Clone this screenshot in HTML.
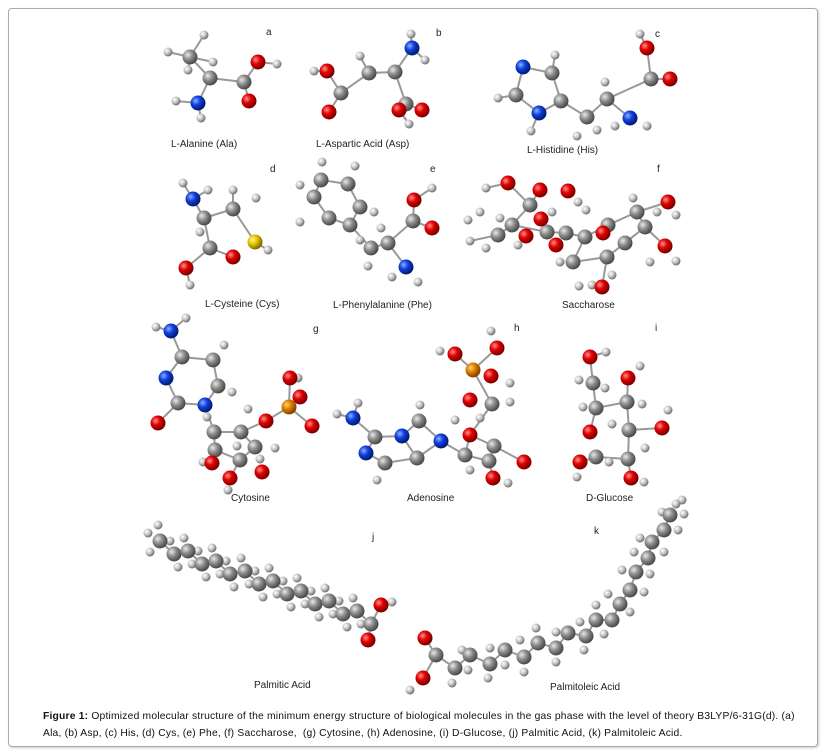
<!DOCTYPE html>
<html><head><meta charset="utf-8"><style>
html,body{margin:0;padding:0;background:#fff;}
body{width:832px;height:754px;position:relative;overflow:hidden;font-family:"Liberation Sans",sans-serif;}
.frame{position:absolute;left:8px;top:8px;width:808px;height:737px;border:1px solid #aaa;border-radius:4px;box-shadow:1px 1px 2px #ccc;}
.cap{position:absolute;left:43px;top:708px;font-size:10.3px;line-height:17px;color:#111;letter-spacing:0.2px;white-space:nowrap;}
svg{position:absolute;left:0;top:0;}
svg text{font-family:"Liberation Sans",sans-serif;font-size:10px;fill:#222;}
</style></head><body>
<div class="frame"></div>
<svg width="832" height="754" viewBox="0 0 832 754">
<defs>
<radialGradient id="gG" cx="35%" cy="35%" r="65%"><stop offset="0" stop-color="#e8e8e8"/><stop offset="0.5" stop-color="#8a8a8a"/><stop offset="1" stop-color="#4a4a4a"/></radialGradient>
<radialGradient id="gR" cx="35%" cy="35%" r="65%"><stop offset="0" stop-color="#ff9090"/><stop offset="0.45" stop-color="#e00000"/><stop offset="1" stop-color="#7a0000"/></radialGradient>
<radialGradient id="gB" cx="35%" cy="35%" r="65%"><stop offset="0" stop-color="#90b0ff"/><stop offset="0.45" stop-color="#1040e0"/><stop offset="1" stop-color="#001a70"/></radialGradient>
<radialGradient id="gH" cx="35%" cy="35%" r="65%"><stop offset="0" stop-color="#ffffff"/><stop offset="0.5" stop-color="#c8c8c8"/><stop offset="1" stop-color="#707070"/></radialGradient>
<radialGradient id="gP" cx="35%" cy="35%" r="65%"><stop offset="0" stop-color="#ffd080"/><stop offset="0.45" stop-color="#e08000"/><stop offset="1" stop-color="#804000"/></radialGradient>
<radialGradient id="gS" cx="35%" cy="35%" r="65%"><stop offset="0" stop-color="#fff4a0"/><stop offset="0.45" stop-color="#e8c800"/><stop offset="1" stop-color="#806800"/></radialGradient>
<circle id="C" r="7.5" fill="url(#gG)"/>
<circle id="O" r="7.5" fill="url(#gR)"/>
<circle id="N" r="7.5" fill="url(#gB)"/>
<circle id="H" r="4.5" fill="url(#gH)"/>
<circle id="P" r="7.5" fill="url(#gP)"/>
<circle id="S" r="7.5" fill="url(#gS)"/>
</defs>

<text x="266" y="35" font-size="12">a</text>
<text x="436" y="36" font-size="12">b</text>
<text x="655" y="37" font-size="12">c</text>
<text x="270" y="172" font-size="12">d</text>
<text x="430" y="172" font-size="12">e</text>
<text x="657" y="172" font-size="12">f</text>
<text x="313" y="332" font-size="12">g</text>
<text x="514" y="331" font-size="12">h</text>
<text x="655" y="331" font-size="12">i</text>
<text x="372" y="540" font-size="12">j</text>
<text x="594" y="534" font-size="12">k</text>
<text x="171" y="147">L-Alanine (Ala)</text>
<text x="316" y="147">L-Aspartic Acid  (Asp)</text>
<text x="527" y="153">L-Histidine (His)</text>
<text x="205" y="307">L-Cysteine (Cys)</text>
<text x="333" y="308">L-Phenylalanine (Phe)</text>
<text x="562" y="308">Saccharose</text>
<text x="231" y="501">Cytosine</text>
<text x="407" y="501">Adenosine</text>
<text x="586" y="501">D-Glucose</text>
<text x="254" y="688">Palmitic Acid</text>
<text x="550" y="690">Palmitoleic Acid</text>

<g stroke="#999" stroke-width="2" fill="none">
<polyline points="204,35 190,57 168,52"/><polyline points="190,57 213,62"/><polyline points="190,57 188,70"/><polyline points="190,57 210,78 244,82 258,62 277,64"/><polyline points="244,82 249,101"/><polyline points="210,78 198,103 176,101"/><polyline points="198,103 201,118"/>
<polyline points="411,34 412,48 425,60"/><polyline points="412,48 395,72 369,73 341,93 327,71 314,71"/><polyline points="341,93 329,112"/><polyline points="395,72 406,104 422,110"/><polyline points="406,104 399,110 409,124"/><polyline points="369,73 360,56"/>
<polygon points="523,67 552,73 561,101 539,113 516,95"/><polyline points="561,101 587,117 607,99 651,79 647,48 640,34"/><polyline points="651,79 670,79"/><polyline points="607,99 630,118"/><polyline points="516,95 498,98"/><polyline points="539,113 531,131"/><polyline points="552,73 555,55"/>
<polyline points="183,183 193,199 208,190"/><polyline points="193,199 204,218 233,209 255,242 268,250"/><polyline points="204,218 210,248 233,257"/><polyline points="210,248 186,268 190,285"/><polyline points="233,209 233,190"/>
<polygon points="321,180 348,184 360,207 350,225 329,218 314,197"/><polyline points="350,225 371,248 388,243 413,221 414,200 432,188"/><polyline points="413,221 432,228"/><polyline points="388,243 406,267"/>
<polyline points="486,188 508,183 530,205 512,225 498,235 470,241"/><polyline points="530,205 540,190"/><polyline points="512,225 547,232 566,233 585,237 608,225 637,212 645,227 625,243 607,257 573,262 585,237"/><polyline points="637,212 668,202"/><polyline points="645,227 665,246"/><polyline points="607,257 602,287"/><polyline points="608,225 603,233"/><polyline points="547,232 541,219"/>
<polyline points="156,327 171,331 186,318"/><polyline points="171,331 182,357 213,360 218,386 205,405 178,403 166,378 182,357"/><polyline points="178,403 158,423"/><polyline points="205,405 214,432 241,432 266,421 289,407 290,378"/><polyline points="289,407 312,426"/><polyline points="214,432 215,450 240,460 255,447 241,432"/><polyline points="240,460 230,478"/>
<polyline points="337,414 353,418 358,403"/><polyline points="353,418 375,437 402,436 417,458 385,463 366,453 375,437"/><polyline points="402,436 419,421 441,441 417,458"/><polyline points="441,441 465,455 470,435 492,404 473,370 455,354"/><polyline points="473,370 497,348"/><polyline points="465,455 489,461 494,446 470,435"/><polyline points="489,461 493,478"/><polyline points="494,446 524,462"/>
<polyline points="606,352 590,357 593,383 596,408 627,402 628,378"/><polyline points="596,408 590,432"/><polyline points="627,402 629,430 662,428"/><polyline points="629,430 628,459 631,478"/><polyline points="628,459 596,457 580,462"/>
<polyline points="160,541 174,554 188,551 202,564 216,561 230,574 245,571 259,584 273,581 287,594 301,591 315,604 329,601 343,614 357,611 371,624 381,605"/><polyline points="371,624 368,640"/>
<polyline points="425,638 436,655 423,678"/><polyline points="436,655 455,668 470,655 490,664 505,650 524,657 538,643 556,648 568,633 586,636 596,620 612,620 620,604 630,590 636,572 648,558 652,542 664,530 670,515"/>
</g>

<use href="#H" x="204" y="35"/><use href="#H" x="168" y="52"/><use href="#C" x="190" y="57"/><use href="#H" x="188" y="70"/><use href="#H" x="213" y="62"/><use href="#C" x="210" y="78"/><use href="#C" x="244" y="82"/><use href="#O" x="258" y="62"/><use href="#H" x="277" y="64"/><use href="#O" x="249" y="101"/><use href="#N" x="198" y="103"/><use href="#H" x="176" y="101"/><use href="#H" x="201" y="118"/>
<use href="#H" x="411" y="34"/><use href="#N" x="412" y="48"/><use href="#H" x="425" y="60"/><use href="#H" x="360" y="56"/><use href="#C" x="395" y="72"/><use href="#C" x="369" y="73"/><use href="#C" x="341" y="93"/><use href="#O" x="327" y="71"/><use href="#H" x="314" y="71"/><use href="#O" x="329" y="112"/><use href="#C" x="406" y="104"/><use href="#O" x="422" y="110"/><use href="#O" x="399" y="110"/><use href="#H" x="409" y="124"/>
<use href="#N" x="523" y="67"/><use href="#C" x="552" y="73"/><use href="#H" x="555" y="55"/><use href="#C" x="561" y="101"/><use href="#N" x="539" y="113"/><use href="#C" x="516" y="95"/><use href="#H" x="498" y="98"/><use href="#H" x="531" y="131"/><use href="#C" x="587" y="117"/><use href="#H" x="577" y="136"/><use href="#H" x="597" y="130"/><use href="#C" x="607" y="99"/><use href="#H" x="605" y="82"/><use href="#C" x="651" y="79"/><use href="#O" x="647" y="48"/><use href="#H" x="640" y="34"/><use href="#O" x="670" y="79"/><use href="#N" x="630" y="118"/><use href="#H" x="615" y="126"/><use href="#H" x="647" y="126"/>
<use href="#H" x="183" y="183"/><use href="#N" x="193" y="199"/><use href="#H" x="208" y="190"/><use href="#H" x="200" y="232"/><use href="#C" x="204" y="218"/><use href="#H" x="233" y="190"/><use href="#H" x="256" y="198"/><use href="#C" x="233" y="209"/><use href="#S" x="255" y="242"/><use href="#H" x="268" y="250"/><use href="#C" x="210" y="248"/><use href="#O" x="233" y="257"/><use href="#O" x="186" y="268"/><use href="#H" x="190" y="285"/>
<use href="#H" x="300" y="185"/><use href="#H" x="322" y="162"/><use href="#H" x="355" y="166"/><use href="#H" x="374" y="212"/><use href="#H" x="300" y="222"/><use href="#C" x="321" y="180"/><use href="#C" x="348" y="184"/><use href="#C" x="360" y="207"/><use href="#C" x="350" y="225"/><use href="#C" x="329" y="218"/><use href="#C" x="314" y="197"/><use href="#H" x="368" y="266"/><use href="#H" x="360" y="240"/><use href="#C" x="371" y="248"/><use href="#H" x="381" y="228"/><use href="#C" x="388" y="243"/><use href="#C" x="413" y="221"/><use href="#O" x="414" y="200"/><use href="#H" x="432" y="188"/><use href="#O" x="432" y="228"/><use href="#N" x="406" y="267"/><use href="#H" x="392" y="277"/><use href="#H" x="418" y="282"/>
<use href="#H" x="486" y="188"/><use href="#H" x="480" y="212"/><use href="#H" x="468" y="220"/><use href="#H" x="470" y="241"/><use href="#H" x="486" y="248"/><use href="#H" x="500" y="218"/><use href="#H" x="518" y="245"/><use href="#H" x="578" y="202"/><use href="#H" x="560" y="262"/><use href="#H" x="592" y="285"/><use href="#H" x="586" y="210"/><use href="#H" x="633" y="198"/><use href="#H" x="657" y="212"/><use href="#H" x="676" y="215"/><use href="#H" x="650" y="262"/><use href="#H" x="676" y="261"/><use href="#H" x="612" y="275"/><use href="#H" x="579" y="286"/><use href="#H" x="552" y="212"/>
<use href="#C" x="530" y="205"/><use href="#C" x="512" y="225"/><use href="#C" x="498" y="235"/><use href="#C" x="547" y="232"/><use href="#C" x="566" y="233"/><use href="#C" x="585" y="237"/><use href="#C" x="608" y="225"/><use href="#C" x="637" y="212"/><use href="#C" x="645" y="227"/><use href="#C" x="625" y="243"/><use href="#C" x="607" y="257"/><use href="#C" x="573" y="262"/>
<use href="#O" x="508" y="183"/><use href="#O" x="540" y="190"/><use href="#O" x="568" y="191"/><use href="#O" x="541" y="219"/><use href="#O" x="526" y="236"/><use href="#O" x="556" y="245"/><use href="#O" x="603" y="233"/><use href="#O" x="668" y="202"/><use href="#O" x="665" y="246"/><use href="#O" x="602" y="287"/>
<use href="#H" x="156" y="327"/><use href="#H" x="186" y="318"/><use href="#N" x="171" y="331"/><use href="#C" x="182" y="357"/><use href="#H" x="224" y="345"/><use href="#C" x="213" y="360"/><use href="#H" x="232" y="392"/><use href="#C" x="218" y="386"/><use href="#N" x="205" y="405"/><use href="#C" x="178" y="403"/><use href="#N" x="166" y="378"/><use href="#O" x="158" y="423"/><use href="#H" x="207" y="417"/><use href="#H" x="248" y="409"/><use href="#H" x="237" y="446"/><use href="#H" x="260" y="459"/><use href="#H" x="275" y="448"/><use href="#H" x="228" y="490"/><use href="#H" x="298" y="378"/><use href="#H" x="203" y="462"/><use href="#C" x="214" y="432"/><use href="#C" x="241" y="432"/><use href="#O" x="266" y="421"/><use href="#O" x="290" y="378"/><use href="#O" x="312" y="426"/><use href="#O" x="300" y="397"/><use href="#P" x="289" y="407"/><use href="#C" x="215" y="450"/><use href="#C" x="240" y="460"/><use href="#C" x="255" y="447"/><use href="#O" x="212" y="463"/><use href="#O" x="230" y="478"/><use href="#O" x="262" y="472"/>
<use href="#H" x="337" y="414"/><use href="#H" x="358" y="403"/><use href="#N" x="353" y="418"/><use href="#C" x="375" y="437"/><use href="#N" x="366" y="453"/><use href="#H" x="377" y="480"/><use href="#C" x="385" y="463"/><use href="#N" x="402" y="436"/><use href="#C" x="417" y="458"/><use href="#C" x="419" y="421"/><use href="#H" x="420" y="405"/><use href="#N" x="441" y="441"/><use href="#H" x="440" y="351"/><use href="#H" x="491" y="331"/><use href="#H" x="510" y="383"/><use href="#H" x="510" y="402"/><use href="#H" x="455" y="420"/><use href="#H" x="480" y="418"/><use href="#H" x="508" y="483"/><use href="#H" x="470" y="470"/><use href="#C" x="465" y="455"/><use href="#O" x="470" y="435"/><use href="#C" x="494" y="446"/><use href="#C" x="489" y="461"/><use href="#C" x="492" y="404"/><use href="#O" x="524" y="462"/><use href="#O" x="493" y="478"/><use href="#P" x="473" y="370"/><use href="#O" x="455" y="354"/><use href="#O" x="497" y="348"/><use href="#O" x="491" y="376"/><use href="#O" x="470" y="400"/>
<use href="#H" x="606" y="352"/><use href="#O" x="590" y="357"/><use href="#H" x="579" y="380"/><use href="#H" x="605" y="388"/><use href="#C" x="593" y="383"/><use href="#H" x="583" y="407"/><use href="#C" x="596" y="408"/><use href="#H" x="640" y="366"/><use href="#O" x="628" y="378"/><use href="#H" x="642" y="404"/><use href="#C" x="627" y="402"/><use href="#O" x="590" y="432"/><use href="#H" x="668" y="410"/><use href="#H" x="612" y="424"/><use href="#C" x="629" y="430"/><use href="#O" x="662" y="428"/><use href="#H" x="645" y="448"/><use href="#C" x="628" y="459"/><use href="#O" x="631" y="478"/><use href="#H" x="644" y="482"/><use href="#H" x="609" y="462"/><use href="#C" x="596" y="457"/><use href="#O" x="580" y="462"/><use href="#H" x="577" y="477"/>
<g>
<use href="#H" x="148" y="533"/><use href="#H" x="150" y="552"/><use href="#H" x="158" y="525"/>
<use href="#H" x="170" y="541"/><use href="#H" x="178" y="567"/><use href="#H" x="184" y="538"/><use href="#H" x="192" y="564"/><use href="#H" x="198" y="551"/><use href="#H" x="206" y="577"/><use href="#H" x="212" y="548"/><use href="#H" x="220" y="574"/><use href="#H" x="226" y="561"/><use href="#H" x="234" y="587"/><use href="#H" x="241" y="558"/><use href="#H" x="249" y="584"/><use href="#H" x="255" y="571"/><use href="#H" x="263" y="597"/><use href="#H" x="269" y="568"/><use href="#H" x="277" y="594"/><use href="#H" x="283" y="581"/><use href="#H" x="291" y="607"/><use href="#H" x="297" y="578"/><use href="#H" x="305" y="604"/><use href="#H" x="311" y="591"/><use href="#H" x="319" y="617"/><use href="#H" x="325" y="588"/><use href="#H" x="333" y="614"/><use href="#H" x="339" y="601"/><use href="#H" x="347" y="627"/><use href="#H" x="353" y="598"/><use href="#H" x="361" y="624"/><use href="#H" x="392" y="602"/>
<use href="#C" x="160" y="541"/><use href="#C" x="174" y="554"/><use href="#C" x="188" y="551"/><use href="#C" x="202" y="564"/><use href="#C" x="216" y="561"/><use href="#C" x="230" y="574"/><use href="#C" x="245" y="571"/><use href="#C" x="259" y="584"/><use href="#C" x="273" y="581"/><use href="#C" x="287" y="594"/><use href="#C" x="301" y="591"/><use href="#C" x="315" y="604"/><use href="#C" x="329" y="601"/><use href="#C" x="343" y="614"/><use href="#C" x="357" y="611"/><use href="#C" x="371" y="624"/>
<use href="#O" x="381" y="605"/><use href="#O" x="368" y="640"/>
</g>
<g>
<use href="#H" x="410" y="690"/><use href="#H" x="452" y="683"/><use href="#H" x="462" y="650"/><use href="#H" x="468" y="670"/><use href="#H" x="488" y="678"/><use href="#H" x="490" y="648"/><use href="#H" x="505" y="665"/><use href="#H" x="520" y="640"/><use href="#H" x="524" y="672"/><use href="#H" x="536" y="628"/><use href="#H" x="556" y="662"/><use href="#H" x="556" y="632"/><use href="#H" x="584" y="650"/><use href="#H" x="580" y="622"/><use href="#H" x="604" y="634"/><use href="#H" x="596" y="605"/><use href="#H" x="630" y="612"/><use href="#H" x="608" y="594"/><use href="#H" x="644" y="592"/><use href="#H" x="622" y="570"/><use href="#H" x="650" y="574"/><use href="#H" x="634" y="552"/><use href="#H" x="664" y="552"/><use href="#H" x="640" y="538"/><use href="#H" x="678" y="530"/><use href="#H" x="662" y="512"/><use href="#H" x="682" y="500"/><use href="#H" x="684" y="514"/><use href="#H" x="676" y="504"/>
<use href="#C" x="436" y="655"/><use href="#C" x="455" y="668"/><use href="#C" x="470" y="655"/><use href="#C" x="490" y="664"/><use href="#C" x="505" y="650"/><use href="#C" x="524" y="657"/><use href="#C" x="538" y="643"/><use href="#C" x="556" y="648"/><use href="#C" x="568" y="633"/><use href="#C" x="586" y="636"/><use href="#C" x="596" y="620"/><use href="#C" x="612" y="620"/><use href="#C" x="620" y="604"/><use href="#C" x="630" y="590"/><use href="#C" x="636" y="572"/><use href="#C" x="648" y="558"/><use href="#C" x="652" y="542"/><use href="#C" x="664" y="530"/><use href="#C" x="670" y="515"/>
<use href="#O" x="425" y="638"/><use href="#O" x="423" y="678"/>
</g>
</svg>
<div class="cap"><b>Figure 1:</b> Optimized molecular structure of the minimum energy structure of biological molecules in the gas phase with the level of theory B3LYP/6-31G(d). (a)<br>Ala, (b) Asp, (c) His, (d) Cys, (e) Phe, (f) Saccharose,&nbsp; (g) Cytosine, (h) Adenosine, (i) D-Glucose, (j) Palmitic Acid, (k) Palmitoleic Acid.</div>
</body></html>
